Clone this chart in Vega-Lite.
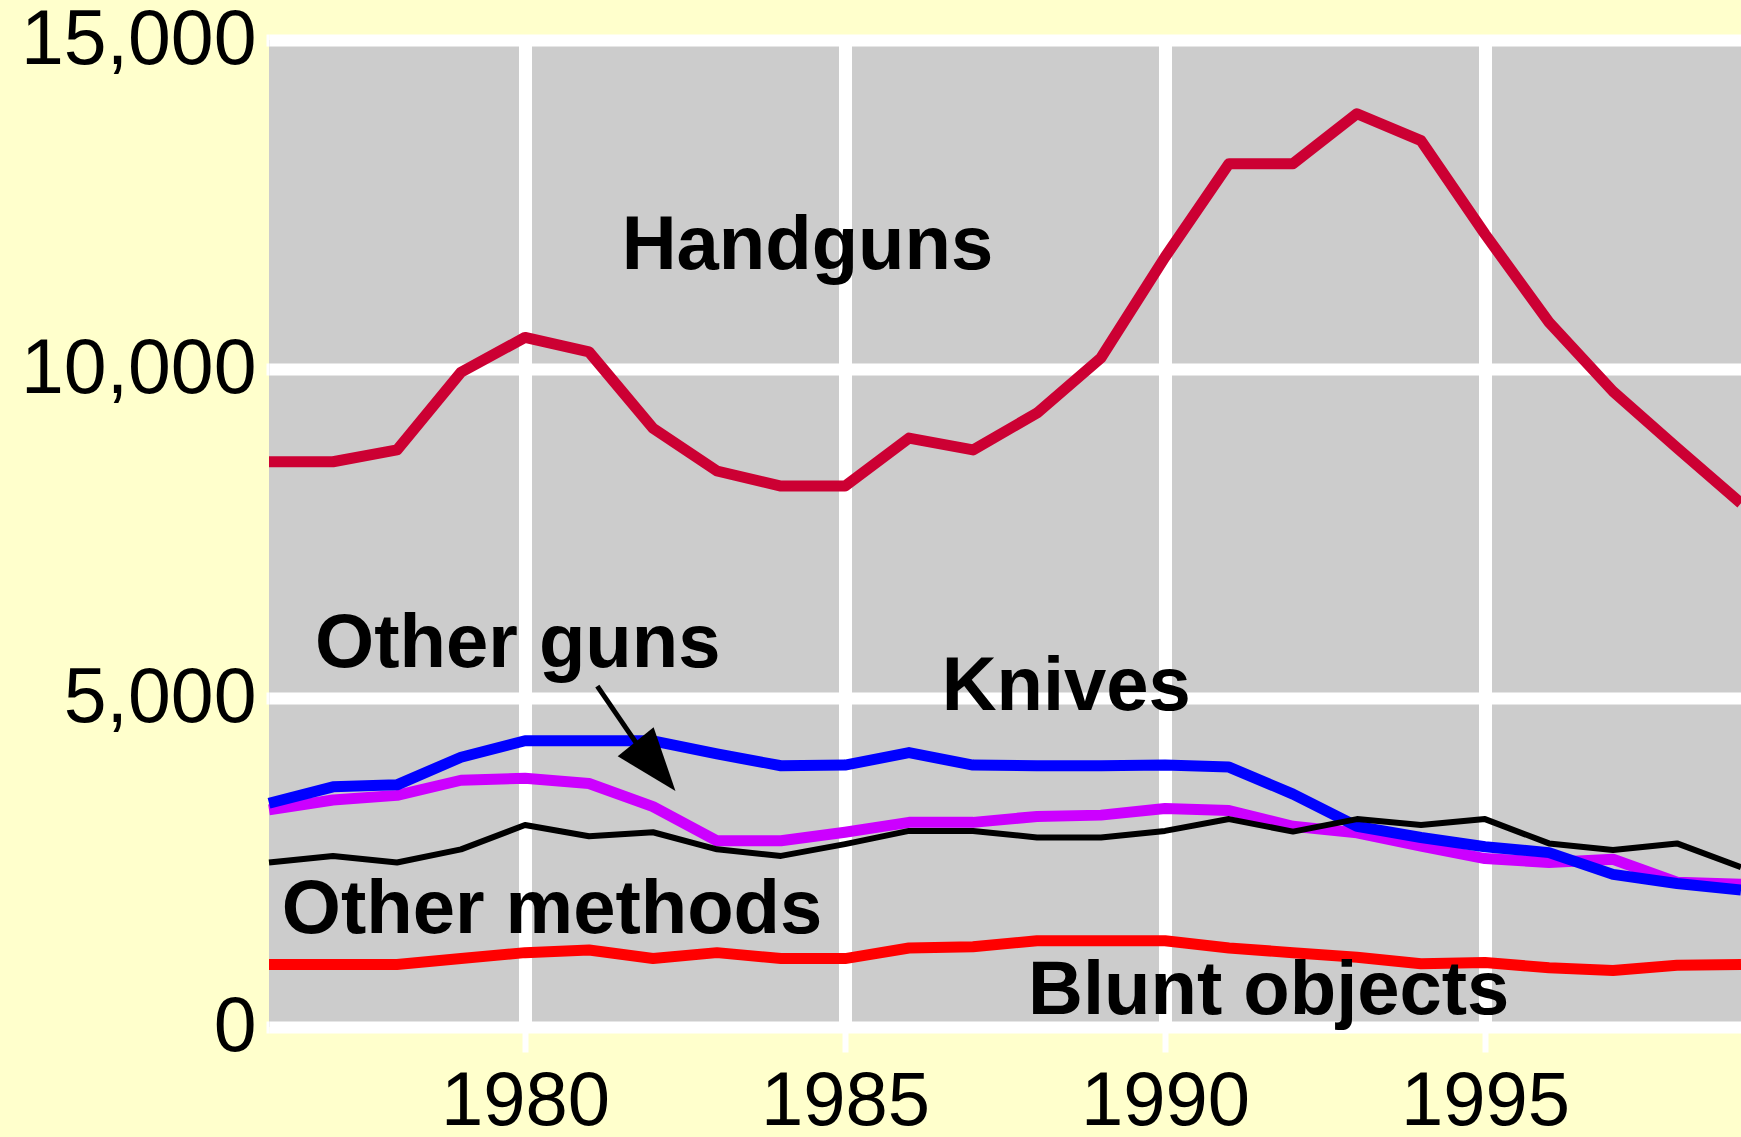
{
  "$schema": "https://vega.github.io/schema/vega-lite/v6.json",
  "width": 1472,
  "height": 987,
  "autosize": {"type": "none"},
  "padding": {"left": 269, "top": 40, "right": 0, "bottom": 110},
  "background": "#ffffcc",
  "config": {"view": {"fill": "#cccccc", "stroke": null}},
  "datasets": {
    "series": [
      {"series": "Handguns", "year": 1976, "value": 8590},
      {"series": "Handguns", "year": 1977, "value": 8590},
      {"series": "Handguns", "year": 1978, "value": 8770},
      {"series": "Handguns", "year": 1979, "value": 9950},
      {"series": "Handguns", "year": 1980, "value": 10480},
      {"series": "Handguns", "year": 1981, "value": 10260},
      {"series": "Handguns", "year": 1982, "value": 9100},
      {"series": "Handguns", "year": 1983, "value": 8450},
      {"series": "Handguns", "year": 1984, "value": 8220},
      {"series": "Handguns", "year": 1985, "value": 8220},
      {"series": "Handguns", "year": 1986, "value": 8950},
      {"series": "Handguns", "year": 1987, "value": 8770},
      {"series": "Handguns", "year": 1988, "value": 9330},
      {"series": "Handguns", "year": 1989, "value": 10170},
      {"series": "Handguns", "year": 1990, "value": 11700},
      {"series": "Handguns", "year": 1991, "value": 13120},
      {"series": "Handguns", "year": 1992, "value": 13120},
      {"series": "Handguns", "year": 1993, "value": 13880},
      {"series": "Handguns", "year": 1994, "value": 13470},
      {"series": "Handguns", "year": 1995, "value": 12050},
      {"series": "Handguns", "year": 1996, "value": 10710},
      {"series": "Handguns", "year": 1997, "value": 9660},
      {"series": "Handguns", "year": 1998, "value": 8800},
      {"series": "Handguns", "year": 1999, "value": 7960},
      {"series": "Knives", "year": 1976, "value": 3400},
      {"series": "Knives", "year": 1977, "value": 3650},
      {"series": "Knives", "year": 1978, "value": 3680},
      {"series": "Knives", "year": 1979, "value": 4100},
      {"series": "Knives", "year": 1980, "value": 4350},
      {"series": "Knives", "year": 1981, "value": 4350},
      {"series": "Knives", "year": 1982, "value": 4350},
      {"series": "Knives", "year": 1983, "value": 4150},
      {"series": "Knives", "year": 1984, "value": 3970},
      {"series": "Knives", "year": 1985, "value": 3980},
      {"series": "Knives", "year": 1986, "value": 4170},
      {"series": "Knives", "year": 1987, "value": 3980},
      {"series": "Knives", "year": 1988, "value": 3970},
      {"series": "Knives", "year": 1989, "value": 3970},
      {"series": "Knives", "year": 1990, "value": 3980},
      {"series": "Knives", "year": 1991, "value": 3950},
      {"series": "Knives", "year": 1992, "value": 3540},
      {"series": "Knives", "year": 1993, "value": 3050},
      {"series": "Knives", "year": 1994, "value": 2880},
      {"series": "Knives", "year": 1995, "value": 2740},
      {"series": "Knives", "year": 1996, "value": 2650},
      {"series": "Knives", "year": 1997, "value": 2320},
      {"series": "Knives", "year": 1998, "value": 2180},
      {"series": "Knives", "year": 1999, "value": 2080},
      {"series": "Other guns", "year": 1976, "value": 3300},
      {"series": "Other guns", "year": 1977, "value": 3450},
      {"series": "Other guns", "year": 1978, "value": 3520},
      {"series": "Other guns", "year": 1979, "value": 3750},
      {"series": "Other guns", "year": 1980, "value": 3780},
      {"series": "Other guns", "year": 1981, "value": 3700},
      {"series": "Other guns", "year": 1982, "value": 3350},
      {"series": "Other guns", "year": 1983, "value": 2830},
      {"series": "Other guns", "year": 1984, "value": 2830},
      {"series": "Other guns", "year": 1985, "value": 2960},
      {"series": "Other guns", "year": 1986, "value": 3110},
      {"series": "Other guns", "year": 1987, "value": 3110},
      {"series": "Other guns", "year": 1988, "value": 3200},
      {"series": "Other guns", "year": 1989, "value": 3220},
      {"series": "Other guns", "year": 1990, "value": 3320},
      {"series": "Other guns", "year": 1991, "value": 3290},
      {"series": "Other guns", "year": 1992, "value": 3050},
      {"series": "Other guns", "year": 1993, "value": 2950},
      {"series": "Other guns", "year": 1994, "value": 2750},
      {"series": "Other guns", "year": 1995, "value": 2560},
      {"series": "Other guns", "year": 1996, "value": 2500},
      {"series": "Other guns", "year": 1997, "value": 2550},
      {"series": "Other guns", "year": 1998, "value": 2200},
      {"series": "Other guns", "year": 1999, "value": 2170},
      {"series": "Other methods", "year": 1976, "value": 2500},
      {"series": "Other methods", "year": 1977, "value": 2600},
      {"series": "Other methods", "year": 1978, "value": 2500},
      {"series": "Other methods", "year": 1979, "value": 2700},
      {"series": "Other methods", "year": 1980, "value": 3070},
      {"series": "Other methods", "year": 1981, "value": 2900},
      {"series": "Other methods", "year": 1982, "value": 2960},
      {"series": "Other methods", "year": 1983, "value": 2700},
      {"series": "Other methods", "year": 1984, "value": 2600},
      {"series": "Other methods", "year": 1985, "value": 2780},
      {"series": "Other methods", "year": 1986, "value": 2980},
      {"series": "Other methods", "year": 1987, "value": 2980},
      {"series": "Other methods", "year": 1988, "value": 2880},
      {"series": "Other methods", "year": 1989, "value": 2880},
      {"series": "Other methods", "year": 1990, "value": 2980},
      {"series": "Other methods", "year": 1991, "value": 3160},
      {"series": "Other methods", "year": 1992, "value": 2970},
      {"series": "Other methods", "year": 1993, "value": 3160},
      {"series": "Other methods", "year": 1994, "value": 3070},
      {"series": "Other methods", "year": 1995, "value": 3160},
      {"series": "Other methods", "year": 1996, "value": 2790},
      {"series": "Other methods", "year": 1997, "value": 2690},
      {"series": "Other methods", "year": 1998, "value": 2790},
      {"series": "Other methods", "year": 1999, "value": 2430},
      {"series": "Blunt objects", "year": 1976, "value": 950},
      {"series": "Blunt objects", "year": 1977, "value": 950},
      {"series": "Blunt objects", "year": 1978, "value": 950},
      {"series": "Blunt objects", "year": 1979, "value": 1040},
      {"series": "Blunt objects", "year": 1980, "value": 1130},
      {"series": "Blunt objects", "year": 1981, "value": 1170},
      {"series": "Blunt objects", "year": 1982, "value": 1040},
      {"series": "Blunt objects", "year": 1983, "value": 1130},
      {"series": "Blunt objects", "year": 1984, "value": 1040},
      {"series": "Blunt objects", "year": 1985, "value": 1040},
      {"series": "Blunt objects", "year": 1986, "value": 1200},
      {"series": "Blunt objects", "year": 1987, "value": 1220},
      {"series": "Blunt objects", "year": 1988, "value": 1310},
      {"series": "Blunt objects", "year": 1989, "value": 1310},
      {"series": "Blunt objects", "year": 1990, "value": 1310},
      {"series": "Blunt objects", "year": 1991, "value": 1200},
      {"series": "Blunt objects", "year": 1992, "value": 1130},
      {"series": "Blunt objects", "year": 1993, "value": 1060},
      {"series": "Blunt objects", "year": 1994, "value": 960},
      {"series": "Blunt objects", "year": 1995, "value": 980},
      {"series": "Blunt objects", "year": 1996, "value": 900},
      {"series": "Blunt objects", "year": 1997, "value": 860},
      {"series": "Blunt objects", "year": 1998, "value": 940},
      {"series": "Blunt objects", "year": 1999, "value": 950}
    ],
    "labels": [
      {"label": "Handguns", "year": 1981.51, "value": 11520},
      {"label": "Other guns", "year": 1976.72, "value": 5476},
      {"label": "Knives", "year": 1986.51, "value": 4818},
      {"label": "Other methods", "year": 1976.2, "value": 1424},
      {"label": "Blunt objects", "year": 1987.86, "value": 198}
    ],
    "arrow": [
      {"year": 1981.13, "value": 5180, "year2": 1981.75, "value2": 4300}
    ],
    "head": [
      {"year": 1982.04, "value": 3961}
    ]
  },
  "encoding": {
    "x": {
      "field": "year",
      "type": "quantitative",
      "scale": {"domain": [1976, 1999], "nice": false, "zero": false},
      "axis": {
        "values": [1980, 1985, 1990, 1995],
        "format": "d",
        "title": null,
        "grid": true,
        "gridColor": "#ffffff",
        "gridWidth": 13,
        "gridOpacity": 1,
        "domain": false,
        "ticks": true,
        "tickSize": 25,
        "tickWidth": 6,
        "tickColor": "#ffffff",
        "tickOpacity": 1,
        "labelFont": "Liberation Sans",
        "labelFontSize": 76,
        "labelColor": "#000000",
        "labelPadding": 12,
        "labelLimit": 400,
        "labelFlush": false,
        "labelOverlap": false,
        "labelBound": false
      }
    },
    "y": {
      "field": "value",
      "type": "quantitative",
      "scale": {"domain": [0, 15000], "nice": false, "zero": true},
      "axis": {
        "values": [0, 5000, 10000, 15000],
        "format": ",d",
        "title": null,
        "grid": true,
        "gridColor": "#ffffff",
        "gridWidth": 12,
        "gridOpacity": 1,
        "domain": false,
        "ticks": true,
        "tickSize": 3,
        "tickWidth": 12,
        "tickColor": "#ffffff",
        "tickOpacity": 1,
        "labelFont": "Liberation Sans",
        "labelFontSize": 77,
        "labelColor": "#000000",
        "labelPadding": 10,
        "labelLimit": 400,
        "labelFlush": false,
        "labelOverlap": false,
        "labelBound": false
      }
    }
  },
  "layer": [
    {
      "data": {"name": "series"},
      "transform": [{"filter": "datum.series === 'Other guns'"}],
      "mark": {"type": "line", "color": "#cc00ff", "strokeWidth": 11, "strokeJoin": "round", "strokeCap": "butt"}
    },
    {
      "data": {"name": "series"},
      "transform": [{"filter": "datum.series === 'Knives'"}],
      "mark": {"type": "line", "color": "#0000ff", "strokeWidth": 11, "strokeJoin": "round", "strokeCap": "butt"}
    },
    {
      "data": {"name": "series"},
      "transform": [{"filter": "datum.series === 'Other methods'"}],
      "mark": {"type": "line", "color": "#000000", "strokeWidth": 6, "strokeJoin": "round", "strokeCap": "butt"}
    },
    {
      "data": {"name": "series"},
      "transform": [{"filter": "datum.series === 'Blunt objects'"}],
      "mark": {"type": "line", "color": "#ff0000", "strokeWidth": 11, "strokeJoin": "round", "strokeCap": "butt"}
    },
    {
      "data": {"name": "series"},
      "transform": [{"filter": "datum.series === 'Handguns'"}],
      "mark": {"type": "line", "color": "#cc0033", "strokeWidth": 11, "strokeJoin": "round", "strokeCap": "butt"}
    },
    {
      "data": {"name": "arrow"},
      "mark": {"type": "rule", "color": "#000000", "strokeWidth": 5},
      "encoding": {
        "x2": {"field": "year2"},
        "y2": {"field": "value2"}
      }
    },
    {
      "data": {"name": "head"},
      "mark": {"type": "point", "shape": "M0,-1L0.73,1L-0.73,1Z", "filled": true, "color": "#000000", "opacity": 1, "size": 4000, "angle": 141, "strokeWidth": 0}
    },
    {
      "data": {"name": "labels"},
      "mark": {"type": "text", "font": "Liberation Sans", "fontWeight": "bold", "fontSize": 76, "align": "left", "baseline": "alphabetic", "color": "#000000"},
      "encoding": {
        "text": {"field": "label", "type": "nominal"}
      }
    }
  ]
}
